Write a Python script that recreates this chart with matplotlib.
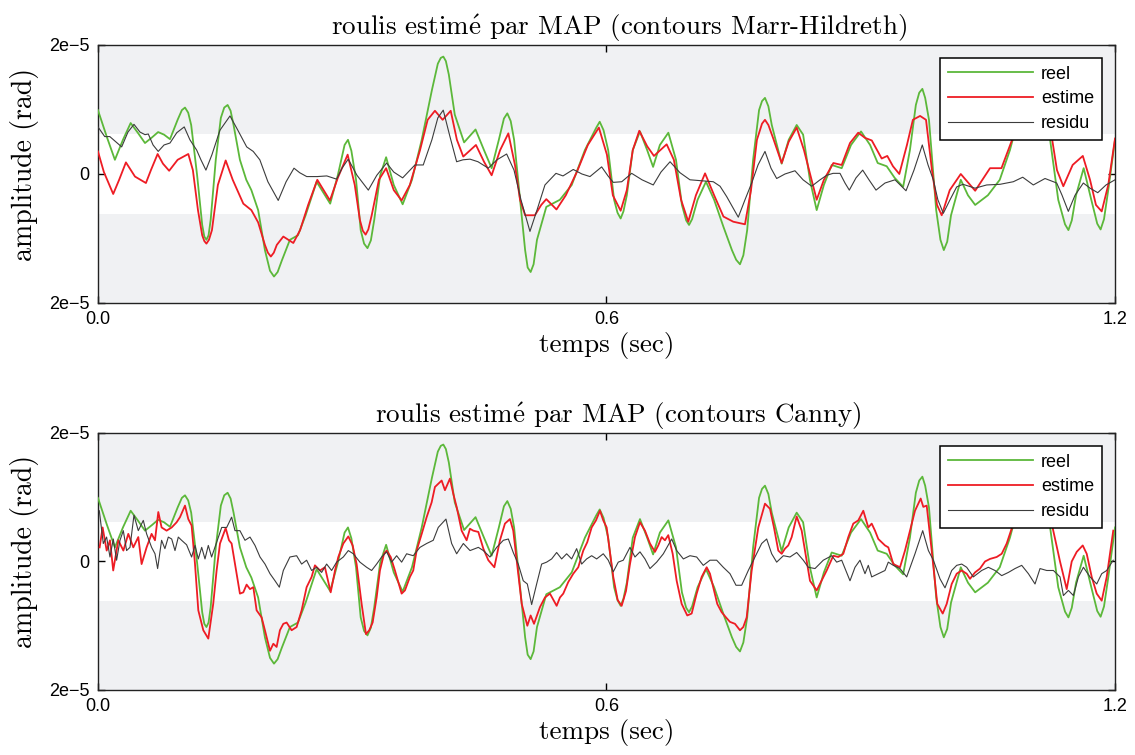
import matplotlib.pyplot as plt
import numpy as np

# temps (s), amplitude (x1e-5 rad)
reel_pts = [
    (0.000, 0.99), (0.0106, 0.57), (0.020, 0.22), (0.0295, 0.53), (0.0386, 0.79), (0.047, 0.64),
    (0.0555, 0.48), (0.064, 0.57), (0.071, 0.65), (0.078, 0.61), (0.085, 0.54), (0.094, 0.84),
    (0.099, 0.99), (0.1027, 1.03), (0.1065, 0.95), (0.110, 0.76), (0.117, -0.02), (0.123, -0.79),
    (0.1255, -0.97), (0.128, -1.02), (0.1305, -0.95), (0.133, -0.71), (0.139, 0.22), (0.145, 0.87),
    (0.149, 1.03), (0.153, 1.07), (0.1565, 0.98), (0.160, 0.76), (0.1675, 0.22), (0.175, -0.09),
    (0.181, -0.25), (0.189, -0.56), (0.197, -1.18), (0.203, -1.50), (0.2077, -1.59), (0.212, -1.52),
    (0.217, -1.34), (0.2265, -1.02), (0.236, -0.95), (0.245, -0.64), (0.258, -0.12), (0.274, -0.46),
    (0.283, -0.02), (0.291, 0.45), (0.295, 0.53), (0.299, 0.36), (0.3045, -0.09), (0.310, -0.87),
    (0.314, -1.08), (0.318, -1.15), (0.322, -1.03), (0.326, -0.71), (0.333, -0.02), (0.340, 0.26),
    (0.349, -0.17), (0.3595, -0.47), (0.3705, -0.09), (0.382, 0.53), (0.394, 1.30), (0.401, 1.71),
    (0.4045, 1.80), (0.4075, 1.82), (0.4105, 1.75), (0.414, 1.54), (0.421, 0.92), (0.432, 0.49),
    (0.4455, 0.69), (0.4555, 0.37), (0.4645, 0.09), (0.473, 0.53), (0.479, 0.86), (0.483, 0.94),
    (0.487, 0.82), (0.491, 0.53), (0.498, -0.40), (0.504, -1.18), (0.507, -1.45), (0.5105, -1.52),
    (0.514, -1.40), (0.518, -1.02), (0.529, -0.51), (0.545, -0.40), (0.559, -0.17), (0.5745, 0.37),
    (0.588, 0.72), (0.592, 0.81), (0.5965, 0.68), (0.602, 0.37), (0.609, -0.40), (0.613, -0.60),
    (0.6167, -0.69), (0.620, -0.58), (0.624, -0.33), (0.631, 0.37), (0.6395, 0.66), (0.648, 0.37),
    (0.655, 0.11), (0.663, 0.45), (0.673, 0.64), (0.682, 0.22), (0.689, -0.48), (0.694, -0.72),
    (0.6974, -0.79), (0.701, -0.70), (0.7075, -0.40), (0.7174, -0.12), (0.727, -0.40), (0.738, -0.82),
    (0.748, -1.18), (0.753, -1.33), (0.7575, -1.40), (0.7615, -1.26), (0.766, -0.87), (0.773, 0.22),
    (0.780, 0.99), (0.7835, 1.13), (0.787, 1.18), (0.791, 1.05), (0.795, 0.76), (0.8067, 0.16),
    (0.815, 0.53), (0.8244, 0.76), (0.832, 0.61), (0.840, -0.09), (0.848, -0.56), (0.8565, -0.17),
    (0.8657, 0.14), (0.8775, 0.09), (0.8885, 0.45), (0.9003, 0.66), (0.911, 0.45), (0.920, 0.17),
    (0.9306, 0.12), (0.940, -0.06), (0.950, -0.20), (0.958, 0.37), (0.965, 1.07), (0.969, 1.26),
    (0.9727, 1.32), (0.976, 1.18), (0.9805, 0.84), (0.989, -0.56), (0.994, -1.02), (0.998, -1.18),
    (1.002, -1.05), (1.0065, -0.64), (1.018, -0.09), (1.0265, -0.33), (1.035, -0.48), (1.050, -0.33),
    (1.064, -0.09), (1.076, 0.37), (1.0855, 0.84), (1.095, 0.92), (1.1055, 0.55), (1.115, 0.87),
    (1.123, 0.57), (1.133, -0.40), (1.141, -0.78), (1.145, -0.87), (1.149, -0.72), (1.154, -0.33),
    (1.163, 0.09), (1.172, -0.40), (1.179, -0.77), (1.183, -0.86), (1.187, -0.70), (1.192, -0.25),
    (1.200, 0.53),
]

estime_mh_pts = [
    (0.000, 0.35), (0.007, 0.03), (0.018, -0.31), (0.025, -0.09), (0.033, 0.18), (0.0437, -0.04),
    (0.0566, -0.14), (0.0625, 0.06), (0.0704, 0.31), (0.0767, 0.16), (0.084, 0.05), (0.094, 0.22),
    (0.1066, 0.31), (0.112, 0.06), (0.118, -0.56), (0.123, -0.95), (0.1255, -1.04), (0.128, -1.08),
    (0.131, -1.02), (0.1345, -0.87), (0.1415, -0.17), (0.1507, 0.21), (0.159, -0.09), (0.1715, -0.46),
    (0.181, -0.56), (0.189, -0.75), (0.197, -1.10), (0.2005, -1.22), (0.204, -1.28), (0.2075, -1.22),
    (0.211, -1.10), (0.2187, -0.97), (0.2305, -1.07), (0.2385, -0.87), (0.248, -0.48), (0.2588, -0.09),
    (0.2737, -0.41), (0.283, -0.06), (0.2946, 0.30), (0.303, -0.17), (0.309, -0.71), (0.3125, -0.88),
    (0.3158, -0.94), (0.319, -0.86), (0.323, -0.64), (0.3315, -0.09), (0.340, 0.09), (0.349, -0.25),
    (0.3583, -0.41), (0.368, -0.17), (0.380, 0.37), (0.389, 0.84), (0.3976, 0.98), (0.4067, 0.84),
    (0.4162, 0.98), (0.4235, 0.53), (0.431, 0.27), (0.446, 0.45), (0.4555, 0.19), (0.4645, -0.02),
    (0.4745, 0.37), (0.4842, 0.63), (0.492, 0.14), (0.498, -0.40), (0.504, -0.64), (0.5155, -0.64),
    (0.523, -0.48), (0.529, -0.39), (0.541, -0.55), (0.552, -0.33), (0.565, 0.03), (0.578, 0.45),
    (0.591, 0.72), (0.6005, 0.30), (0.6075, -0.33), (0.6167, -0.57), (0.624, -0.25), (0.631, 0.37),
    (0.6387, 0.67), (0.648, 0.43), (0.656, 0.28), (0.671, 0.46), (0.6795, 0.22), (0.688, -0.40),
    (0.6965, -0.74), (0.7055, -0.33), (0.7163, 0.01), (0.727, -0.33), (0.738, -0.66), (0.7496, -0.74),
    (0.7634, -0.78), (0.7705, -0.25), (0.7775, 0.53), (0.7835, 0.78), (0.787, 0.84), (0.791, 0.76),
    (0.7965, 0.56), (0.8067, 0.17), (0.815, 0.50), (0.8244, 0.72), (0.833, 0.37), (0.848, -0.40),
    (0.8565, -0.09), (0.8677, 0.17), (0.8775, 0.14), (0.8873, 0.48), (0.897, 0.64), (0.905, 0.56),
    (0.913, 0.52), (0.9247, 0.24), (0.9313, 0.28), (0.938, 0.12), (0.9455, 0.00), (0.9545, 0.45),
    (0.9615, 0.84), (0.970, 0.90), (0.977, 0.84), (0.984, 0.06), (0.990, -0.48), (0.9955, -0.64),
    (1.005, -0.25), (1.018, 0.00), (1.035, -0.26), (1.0525, 0.09), (1.066, 0.09), (1.074, 0.37),
    (1.080, 0.58), (1.091, 0.99), (1.102, 1.15), (1.114, 0.99), (1.1253, 0.58), (1.1315, 0.06),
    (1.139, -0.19), (1.150, 0.14), (1.162, 0.28), (1.1705, -0.09), (1.1775, -0.48), (1.1843, -0.58),
    (1.192, -0.17), (1.200, 0.55),
]

residu_mh_pts = [
    (0.000, 0.73), (0.008, 0.58), (0.014, 0.58), (0.021, 0.50), (0.028, 0.42), (0.0354, 0.65),
    (0.0425, 0.77), (0.0496, 0.65), (0.0555, 0.61), (0.0594, 0.62), (0.065, 0.45), (0.0711, 0.35),
    (0.078, 0.45), (0.085, 0.48), (0.093, 0.64), (0.1018, 0.73), (0.1085, 0.53), (0.1165, 0.37),
    (0.1215, 0.22), (0.1274, 0.06), (0.1345, 0.30), (0.144, 0.68), (0.1558, 0.90), (0.165, 0.68),
    (0.1755, 0.42), (0.1832, 0.35), (0.191, 0.22), (0.2005, -0.12), (0.2127, -0.41), (0.222, -0.12),
    (0.2313, 0.09), (0.238, 0.02), (0.2463, -0.04), (0.2588, -0.04), (0.270, -0.03), (0.2816, -0.08),
    (0.288, 0.09), (0.2953, 0.23), (0.3056, -0.02), (0.319, -0.25), (0.329, -0.02), (0.3406, 0.17),
    (0.349, 0.03), (0.3595, -0.06), (0.374, 0.14), (0.3838, 0.14), (0.394, 0.53), (0.401, 0.87),
    (0.4074, 0.99), (0.4153, 0.58), (0.4232, 0.19), (0.4307, 0.22), (0.439, 0.23), (0.4484, 0.19),
    (0.4605, 0.09), (0.4708, 0.22), (0.4822, 0.31), (0.4909, 0.06), (0.4991, -0.40), (0.5097, -0.89),
    (0.518, -0.56), (0.5274, -0.17), (0.5404, 0.01), (0.5487, -0.03), (0.5608, 0.07), (0.571, 0.00),
    (0.5805, -0.04), (0.5943, 0.11), (0.6018, -0.03), (0.608, -0.13), (0.618, -0.12), (0.6297, 0.01),
    (0.6419, -0.09), (0.6552, -0.17), (0.6643, 0.03), (0.675, 0.19), (0.6867, 0.02), (0.6985, -0.09),
    (0.726, -0.12), (0.734, -0.19), (0.7418, -0.35), (0.7555, -0.67), (0.7634, -0.40), (0.7713, -0.14),
    (0.7788, 0.14), (0.787, 0.35), (0.7941, 0.09), (0.8008, -0.07), (0.8106, 0.00), (0.8224, 0.05),
    (0.8319, -0.09), (0.8421, -0.19), (0.852, -0.09), (0.8598, -0.02), (0.8673, 0.01), (0.8755, 0.01),
    (0.8814, -0.14), (0.8865, -0.25), (0.8944, -0.06), (0.9023, 0.06), (0.9097, -0.09), (0.918, -0.25),
    (0.9286, -0.14), (0.9404, -0.09), (0.9534, -0.26), (0.9628, 0.06), (0.9726, 0.45), (0.9794, 0.14),
    (0.9856, -0.09), (0.991, -0.40), (0.9974, -0.61), (1.0053, -0.40), (1.0132, -0.20), (1.0206, -0.16),
    (1.0348, -0.22), (1.0486, -0.17), (1.0643, -0.16), (1.080, -0.12), (1.0911, -0.05), (1.1036, -0.17),
    (1.1174, -0.07), (1.1312, -0.14), (1.1375, -0.33), (1.1449, -0.58), (1.1528, -0.33), (1.1626, -0.14),
    (1.1705, -0.22), (1.1796, -0.29), (1.1894, -0.17), (1.200, -0.09),
]

estime_canny_pts = [
    (0.002, 0.22), (0.0055, 0.53), (0.0103, 0.17), (0.0142, 0.33), (0.018, -0.14), (0.024, 0.33),
    (0.030, 0.17), (0.0358, 0.43), (0.0417, 0.22), (0.0476, 0.38), (0.0515, -0.04), (0.0574, 0.22),
    (0.0633, 0.43), (0.0673, 0.33), (0.0712, 0.77), (0.0751, 0.53), (0.081, 0.48), (0.087, 0.53),
    (0.0928, 0.61), (0.0968, 0.69), (0.1027, 0.87), (0.1066, 0.66), (0.1105, 0.56), (0.1145, -0.04),
    (0.1184, -0.76), (0.1243, -1.07), (0.1302, -1.20), (0.136, -0.66), (0.140, -0.14), (0.144, 0.28),
    (0.1507, 0.52), (0.1546, 0.33), (0.1577, 0.28), (0.1636, -0.19), (0.1675, -0.50), (0.1715, -0.48),
    (0.1754, -0.36), (0.1794, -0.43), (0.1833, -0.40), (0.1872, -0.76), (0.1931, -0.87), (0.197, -1.07),
    (0.203, -1.39), (0.2069, -1.28), (0.2108, -1.33), (0.2147, -1.07), (0.2187, -0.97), (0.2226, -0.95),
    (0.2285, -1.07), (0.2344, -1.02), (0.2403, -0.76), (0.2462, -0.40), (0.2521, -0.24), (0.256, -0.06),
    (0.262, -0.14), (0.2678, -0.09), (0.2746, -0.48), (0.2797, -0.14), (0.2836, 0.07), (0.2895, 0.28),
    (0.2954, 0.39), (0.3005, 0.25), (0.3052, -0.04), (0.3111, -0.66), (0.3162, -1.13), (0.3201, -1.07),
    (0.3241, -0.95), (0.3288, -0.56), (0.3327, -0.14), (0.3375, 0.12), (0.3406, 0.17), (0.3454, 0.07),
    (0.3504, -0.14), (0.3583, -0.50), (0.3622, -0.45), (0.3681, -0.24), (0.372, -0.14), (0.376, 0.17),
    (0.382, 0.43), (0.3878, 0.69), (0.3937, 0.92), (0.3976, 1.16), (0.4015, 1.21), (0.4055, 1.26),
    (0.4094, 1.11), (0.4153, 1.29), (0.4193, 1.05), (0.4232, 0.85), (0.4291, 0.48), (0.435, 0.33),
    (0.4389, 0.51), (0.4428, 0.48), (0.4488, 0.46), (0.4547, 0.20), (0.4606, 0.02), (0.4677, -0.09),
    (0.4743, 0.33), (0.4802, 0.59), (0.4861, 0.66), (0.490, 0.48), (0.494, 0.02), (0.500, -0.66),
    (0.5066, -1.00), (0.5105, -0.84), (0.5145, -0.97), (0.5215, -0.71), (0.5274, -0.56), (0.5333, -0.50),
    (0.5412, -0.69), (0.5451, -0.56), (0.549, -0.50), (0.5549, -0.32), (0.5608, -0.19), (0.5667, -0.09),
    (0.5726, 0.17), (0.5773, 0.30), (0.5825, 0.53), (0.5876, 0.64), (0.5923, 0.79), (0.5962, 0.64),
    (0.6002, 0.53), (0.608, -0.24), (0.6132, -0.60), (0.6179, -0.69), (0.623, -0.46), (0.6277, -0.04),
    (0.6336, 0.38), (0.6395, 0.61), (0.6454, 0.48), (0.6513, 0.28), (0.6572, 0.15), (0.6611, 0.25),
    (0.6651, 0.38), (0.669, 0.33), (0.6729, 0.41), (0.6781, 0.12), (0.6828, -0.30), (0.6887, -0.66),
    (0.6953, -0.84), (0.7005, -0.81), (0.7064, -0.50), (0.7123, -0.24), (0.7182, -0.09), (0.7221, -0.19),
    (0.726, -0.40), (0.7307, -0.66), (0.7359, -0.79), (0.741, -0.87), (0.7457, -0.94), (0.7516, -0.97),
    (0.7575, -1.07), (0.7614, -1.02), (0.7654, -0.87), (0.7713, -0.14), (0.7791, 0.53), (0.787, 0.90),
    (0.7929, 0.82), (0.7976, 0.53), (0.8027, 0.17), (0.8067, 0.12), (0.8106, 0.20), (0.8145, 0.25),
    (0.8185, 0.38), (0.8244, 0.70), (0.8303, 0.48), (0.8354, 0.07), (0.8401, -0.30), (0.848, -0.45),
    (0.8598, -0.14), (0.8676, 0.09), (0.8735, 0.07), (0.8794, 0.12), (0.8853, 0.38), (0.8912, 0.59),
    (0.8971, 0.64), (0.903, 0.79), (0.9089, 0.53), (0.9129, 0.59), (0.9168, 0.48), (0.9207, 0.35),
    (0.9247, 0.30), (0.9286, 0.25), (0.9325, 0.22), (0.9384, -0.04), (0.9463, -0.09), (0.9522, 0.17),
    (0.9581, 0.48), (0.964, 0.79), (0.9679, 0.90), (0.9707, 0.98), (0.9738, 0.85), (0.9778, 0.87),
    (0.9837, 0.17), (0.9903, -0.66), (0.9967, -0.81), (1.0014, -0.66), (1.0073, -0.35), (1.0132, -0.19),
    (1.0191, -0.14), (1.025, -0.19), (1.0289, -0.27), (1.0348, -0.17), (1.0407, -0.11), (1.0466, 0.00),
    (1.0525, 0.04), (1.0604, 0.07), (1.0663, 0.12), (1.0722, 0.28), (1.080, 0.59), (1.094, 1.00),
    (1.109, 1.10), (1.1253, 0.59), (1.1304, 0.28), (1.1351, 0.00), (1.143, -0.43), (1.1489, 0.00),
    (1.1548, 0.15), (1.1619, 0.25), (1.1666, 0.12), (1.1725, -0.24), (1.1784, -0.50), (1.1843, -0.61),
    (1.1902, -0.24), (1.1979, 0.48),
]

residu_canny_pts = [
    (0.0016, 0.79), (0.0063, 0.28), (0.0102, 0.38), (0.0142, 0.07), (0.0181, 0.35), (0.022, 0.02),
    (0.026, 0.33), (0.0299, 0.48), (0.0338, 0.17), (0.0378, 0.22), (0.0425, 0.72), (0.0476, 0.48),
    (0.0535, 0.64), (0.0574, 0.43), (0.0633, 0.22), (0.0673, 0.12), (0.0704, -0.11), (0.0751, 0.33),
    (0.079, 0.20), (0.083, 0.38), (0.087, 0.35), (0.0909, 0.17), (0.0948, 0.38), (0.0987, 0.33),
    (0.1046, 0.26), (0.1105, 0.07), (0.1145, 0.25), (0.1184, 0.04), (0.1224, 0.22), (0.1263, 0.04),
    (0.1302, 0.25), (0.1341, 0.07), (0.1401, 0.30), (0.146, 0.53), (0.1519, 0.53), (0.1577, 0.69),
    (0.1617, 0.48), (0.1675, 0.48), (0.1735, 0.33), (0.1794, 0.38), (0.1853, 0.25), (0.1912, 0.07),
    (0.1971, -0.04), (0.203, -0.19), (0.2089, -0.30), (0.214, -0.40), (0.2187, -0.14), (0.2265, 0.07),
    (0.2344, 0.09), (0.2403, -0.04), (0.2462, 0.02), (0.2521, -0.14), (0.258, -0.09), (0.2639, -0.17),
    (0.2698, -0.04), (0.2757, -0.14), (0.2816, -0.01), (0.2895, 0.07), (0.2954, 0.17), (0.3013, 0.12),
    (0.3091, -0.01), (0.317, -0.09), (0.3229, -0.14), (0.3288, -0.04), (0.3347, 0.07), (0.3406, 0.15),
    (0.3465, -0.01), (0.3524, 0.09), (0.3583, -0.01), (0.3642, 0.12), (0.372, 0.09), (0.3799, 0.22),
    (0.3878, 0.28), (0.3956, 0.33), (0.4015, 0.53), (0.4106, 0.66), (0.4173, 0.28), (0.4232, 0.12),
    (0.4311, 0.28), (0.439, 0.17), (0.4488, 0.22), (0.4547, 0.17), (0.4625, 0.07), (0.4704, 0.22),
    (0.4783, 0.33), (0.4842, 0.35), (0.490, 0.14), (0.4959, -0.04), (0.5018, -0.30), (0.5066, -0.35),
    (0.5117, -0.67), (0.5176, -0.35), (0.5235, -0.04), (0.5294, -0.01), (0.5353, 0.04), (0.5412, 0.14),
    (0.5471, 0.04), (0.553, 0.12), (0.5589, 0.04), (0.5648, 0.20), (0.5707, -0.04), (0.5766, 0.04),
    (0.5825, 0.09), (0.5884, 0.04), (0.5962, 0.12), (0.6021, 0.02), (0.608, -0.16), (0.6139, -0.01),
    (0.6198, 0.02), (0.6277, 0.22), (0.6336, 0.07), (0.6395, 0.15), (0.6454, 0.04), (0.6513, -0.11),
    (0.6592, -0.01), (0.6671, 0.12), (0.6769, 0.35), (0.6828, 0.17), (0.6907, 0.04), (0.6985, 0.09),
    (0.7064, 0.07), (0.7142, -0.06), (0.7221, 0.02), (0.730, 0.02), (0.7378, -0.09), (0.7457, -0.19),
    (0.7528, -0.37), (0.7595, -0.37), (0.7673, -0.14), (0.7752, 0.07), (0.7831, 0.28), (0.789, 0.35),
    (0.7949, 0.12), (0.8008, -0.01), (0.8087, 0.09), (0.8165, 0.07), (0.8244, 0.14), (0.8322, 0.02),
    (0.8381, -0.09), (0.846, -0.11), (0.8558, 0.02), (0.8657, 0.09), (0.8716, -0.01), (0.8775, 0.02),
    (0.8873, -0.30), (0.8932, -0.09), (0.8991, 0.02), (0.905, -0.19), (0.9089, -0.06), (0.9129, -0.24),
    (0.9207, -0.19), (0.9286, -0.14), (0.9325, -0.01), (0.9384, -0.06), (0.9463, -0.11), (0.9542, -0.24),
    (0.964, 0.12), (0.9731, 0.48), (0.9798, 0.17), (0.9857, 0.02), (0.9935, -0.27), (0.9994, -0.41),
    (1.0073, -0.14), (1.0132, -0.06), (1.0191, -0.04), (1.025, -0.09), (1.0328, -0.24), (1.0427, -0.14),
    (1.0505, -0.09), (1.0584, -0.14), (1.0663, -0.22), (1.0742, -0.17), (1.082, -0.11), (1.0899, -0.06),
    (1.0978, -0.19), (1.1056, -0.35), (1.1115, -0.11), (1.1194, -0.14), (1.1273, -0.14), (1.1351, -0.24),
    (1.1391, -0.53), (1.145, -0.45), (1.1509, -0.53), (1.1568, -0.24), (1.1627, -0.09), (1.1705, -0.24),
    (1.1784, -0.35), (1.1843, -0.19), (1.1902, -0.14), (1.1979, 0.02),
]

titles = [r'roulis estim$\acute{\mathrm{e}}$ par MAP (contours Marr-Hildreth)',
          r'roulis estim$\acute{\mathrm{e}}$ par MAP (contours Canny)']
yticks = [-2, 0, 2]
yticklabels = ['2e\u22125', '0', '2e\u22125']
xticks = [0.0, 0.6, 1.2]
xticklabels = ['0.0', '0.6', '1.2']
band = 0.62   # half height of the white band (x1e-5)

t_reel, reel = np.array(reel_pts).T
panels = [
    (np.array(estime_mh_pts).T, np.array(residu_mh_pts).T),
    (np.array(estime_canny_pts).T, np.array(residu_canny_pts).T),
]

plt.rcParams['font.family'] = ['Liberation Sans', 'DejaVu Sans']
plt.rcParams['mathtext.fontset'] = 'cm'
serif = ['cmr10', 'DejaVu Serif']

fig = plt.figure(figsize=(11.35, 7.55), dpi=100)
ax1 = fig.add_axes([0.0863, 0.5987, 0.8961, 0.3417])
ax2 = fig.add_axes([0.0863, 0.0861, 0.8961, 0.3404])

for ax, title, ((t_e, est), (t_r, res)) in zip([ax1, ax2], titles, panels):
    ax.set_facecolor('#f0f1f3')
    ax.axhspan(-band, band, color='white', lw=0, zorder=0)

    ax.plot(t_reel, reel, color='#5cb83a', lw=1.3, label='reel', zorder=3,
            solid_joinstyle='round')
    ax.plot(t_e, est, color='#ee1c24', lw=1.3, label='estime', zorder=4,
            solid_joinstyle='round')
    ax.plot(t_r, res, color='#3c3c3c', lw=0.8, label='residu', zorder=5,
            solid_joinstyle='round')

    ax.set_xlim(0, 1.2)
    ax.set_ylim(-2, 2)
    ax.set_xticks(xticks)
    ax.set_xticklabels(xticklabels)
    ax.set_yticks(yticks)
    ax.set_yticklabels(yticklabels)
    ax.tick_params(direction='in', length=5, width=1, top=True, right=True,
                   labelsize=13, pad=6)
    for s in ax.spines.values():
        s.set_linewidth(1.0)
        s.set_color('#222222')

    ax.set_title(title, fontfamily=serif, fontsize=19.5, pad=7, x=0.512)
    ax.set_ylabel('amplitude (rad)', fontfamily=serif, fontsize=20)
    ax.yaxis.set_label_coords(-0.058, 0.538)
    ax.set_xlabel('temps (sec)', fontfamily=serif, fontsize=19.5, labelpad=3)

    leg = ax.legend(loc='upper right', fontsize=13, handlelength=4.7, handletextpad=0.45,
                    labelspacing=0.42, borderaxespad=0.7, fancybox=False, framealpha=1,
                    edgecolor='black', borderpad=0.45)
    leg.get_frame().set_linewidth(1.1)
    leg.set_zorder(10)

fig.savefig('out.png', dpi=100)
